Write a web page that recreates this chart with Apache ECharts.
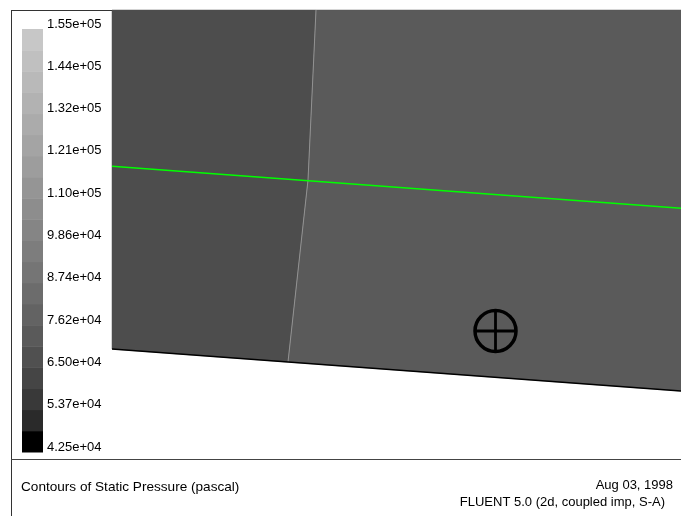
<!DOCTYPE html>
<html>
<head>
<meta charset="utf-8">
<script src="https://cdn.jsdelivr.net/npm/echarts@6/dist/echarts.min.js"></script>
<style>
html,body{margin:0;padding:0;background:#fff;}
#chart{width:681px;height:516px;}
</style>
</head>
<body>
<div id="chart"></div>
<script>
// ---- Data (domain coordinates, arbitrary length units) ----
const colorbarLabels = ['4.25e+04','5.37e+04','6.50e+04','7.62e+04','8.74e+04','9.86e+04','1.10e+05','1.21e+05','1.32e+05','1.44e+05','1.55e+05'];
const bandGray = [0, 42, 57, 69, 80, 90, 99, 108, 117, 125, 133, 141, 149, 157, 164, 171, 178, 185, 192, 199];
const leftZone  = [[0,4.5],[2.04,4.5],[1.96,2.80],[1.76,0.98],[0,1.11]];
const rightZone = [[2.04,4.5],[5.69,4.5],[5.69,0.69],[1.76,0.98],[1.96,2.80]];
const zoneGray  = [77, 90];
const interfaceLine = [[2.04,4.5],[1.96,2.80],[1.76,0.98]];
const greenLine = [[0,2.937],[5.69,2.517]];
const bottomWall = [[0,1.11],[5.69,0.69]];
const crosshair = [[3.835,1.29]];
const footerLeft = 'Contours of Static Pressure (pascal)';
const footerDate = 'Aug 03, 1998';
const footerInfo = 'FLUENT 5.0 (2d, coupled imp, S-A)';

const zones = [leftZone, rightZone];
const FONT = "'Liberation Sans', Arial, Helvetica, sans-serif";
const g2c = g => 'rgb(' + g + ',' + g + ',' + g + ')';

const chart = echarts.init(document.getElementById('chart'), null, {renderer: 'canvas'});
const option = {
  animation: false,
  backgroundColor: '#ffffff',
  grid: [
    {left: 112, top: 10, width: 569, height: 450},
    {left: 22, top: 29, width: 21, height: 423}
  ],
  xAxis: [
    {gridIndex: 0, type: 'value', min: 0, max: 5.69, show: false},
    {gridIndex: 1, type: 'value', min: 0, max: 1, show: false}
  ],
  yAxis: [
    {gridIndex: 0, type: 'value', min: 0, max: 4.5, show: false},
    {gridIndex: 1, type: 'value', min: 0, max: 20, interval: 2, position: 'right',
     axisLine: {show: false}, axisTick: {show: false}, splitLine: {show: false},
     axisLabel: {show: true, margin: 4, color: '#000', fontSize: 13, fontFamily: FONT,
       align: 'left', verticalAlign: 'bottom', lineHeight: 10,
       formatter: v => colorbarLabels[Math.round(v / 2)] }}
  ],
  series: [
    {
      type: 'custom', xAxisIndex: 0, yAxisIndex: 0, silent: true,
      data: zones.map((z, i) => [i, 0]),
      renderItem: (params, api) => {
        const pts = zones[params.dataIndex].map(p => api.coord(p));
        const g = zoneGray[params.dataIndex];
        return {type: 'polygon', shape: {points: pts}, style: {fill: g2c(g), stroke: g2c(g), lineWidth: 0.5}};
      },
      z: 1
    },
    {
      type: 'line', xAxisIndex: 0, yAxisIndex: 0, data: interfaceLine, showSymbol: false, silent: true,
      lineStyle: {color: '#929292', width: 1}, z: 2
    },
    {
      type: 'line', xAxisIndex: 0, yAxisIndex: 0, data: greenLine, showSymbol: false, silent: true,
      lineStyle: {color: '#00ff00', width: 1.6}, z: 3
    },
    {
      type: 'line', xAxisIndex: 0, yAxisIndex: 0, data: bottomWall, showSymbol: false, silent: true,
      lineStyle: {color: '#000000', width: 1.5}, z: 3
    },
    {
      type: 'custom', xAxisIndex: 0, yAxisIndex: 0, silent: true, data: crosshair,
      renderItem: (params, api) => {
        const c = api.coord([api.value(0), api.value(1)]);
        const r = 20.5;
        const st = {stroke: '#000', lineWidth: 3.5, fill: null};
        return {type: 'group', children: [
          {type: 'circle', shape: {cx: c[0], cy: c[1], r: r}, style: st},
          {type: 'line', shape: {x1: c[0] - r, y1: c[1], x2: c[0] + r, y2: c[1]}, style: {stroke: '#000', lineWidth: 2.8}},
          {type: 'line', shape: {x1: c[0], y1: c[1] - r, x2: c[0], y2: c[1] + r}, style: {stroke: '#000', lineWidth: 2.8}}
        ]};
      },
      z: 4
    },
    {
      type: 'custom', xAxisIndex: 1, yAxisIndex: 1, silent: true,
      data: bandGray.map((g, i) => [i, g]),
      renderItem: (params, api) => {
        const i = api.value(0);
        const p0 = api.coord([0, i]);
        const p1 = api.coord([1, i + 1]);
        return {type: 'rect', shape: {x: p0[0], y: p1[1], width: p1[0] - p0[0], height: p0[1] - p1[1] + 0.5},
          style: {fill: g2c(api.value(1))}};
      },
      z: 2
    }
  ],
  graphic: [
    {type: 'line', shape: {x1: 11.5, y1: 10, x2: 11.5, y2: 516}, style: {stroke: '#333', lineWidth: 1}, z: 10},
    {type: 'line', shape: {x1: 11, y1: 10.5, x2: 112, y2: 10.5}, style: {stroke: '#333', lineWidth: 1}, z: 10},
    {type: 'line', shape: {x1: 11, y1: 459.5, x2: 681, y2: 459.5}, style: {stroke: '#444', lineWidth: 1}, z: 10},
    {type: 'text', x: 21, y: 487, style: {text: footerLeft, fill: '#000', font: '13.6px ' + FONT, textAlign: 'left', textVerticalAlign: 'middle'}},
    {type: 'text', x: 673, y: 485, style: {text: footerDate, fill: '#000', font: '13px ' + FONT, textAlign: 'right', textVerticalAlign: 'middle'}},
    {type: 'text', x: 665, y: 502, style: {text: footerInfo, fill: '#000', font: '13px ' + FONT, textAlign: 'right', textVerticalAlign: 'middle'}}
  ]
};
chart.setOption(option);
</script>
</body>
</html>
